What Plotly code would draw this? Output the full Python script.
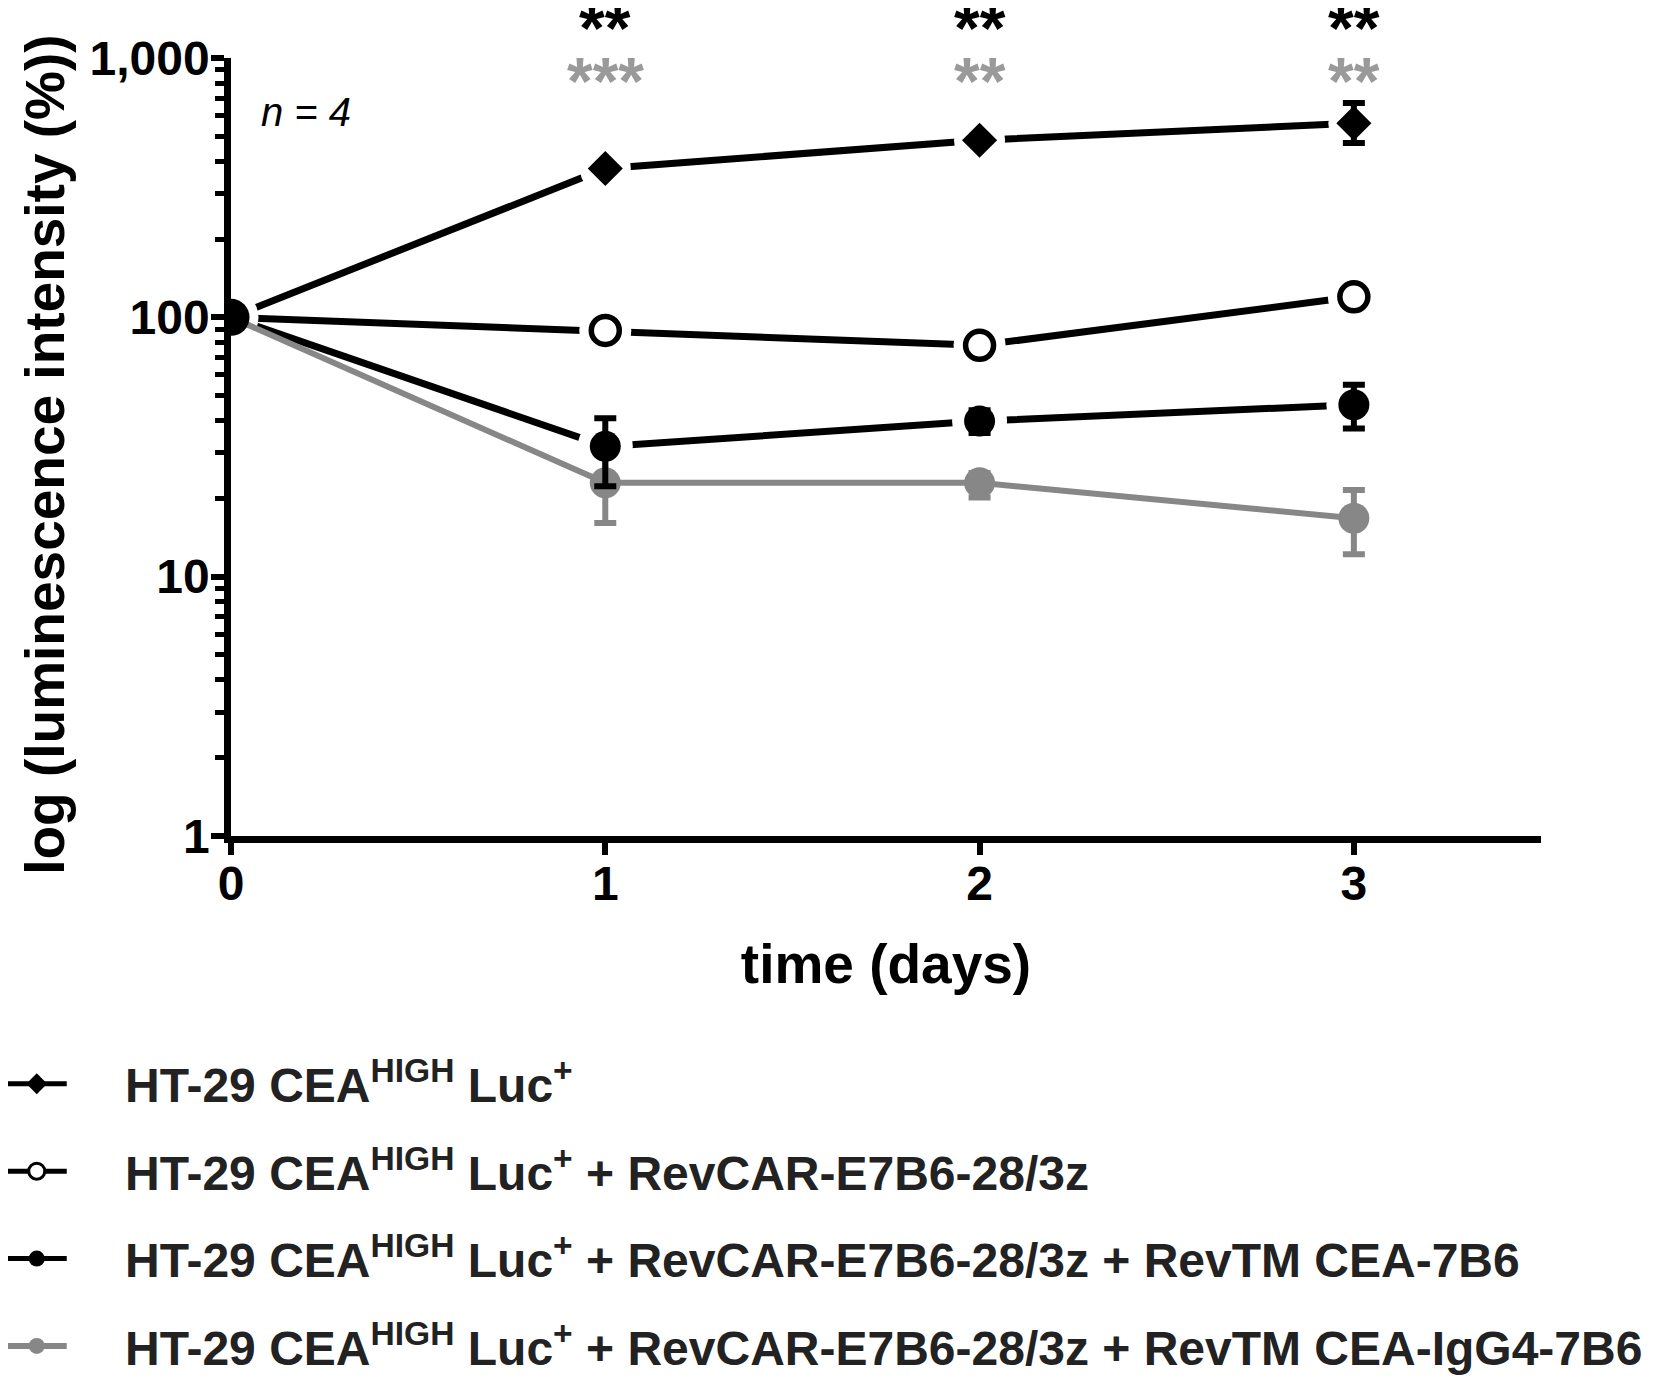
import plotly.graph_objects as go

# luminescence over time, log scale
days = [0, 1, 2, 3]

luc_only = [100, 375, 482, 560]
luc_only_up = [0, 0, 0, 110]
luc_only_dn = [0, 0, 0, 90]

revcar = [100, 89, 78, 120]
revcar_up = [0, 0, 0, 0]
revcar_dn = [0, 0, 0, 0]

revtm = [100, 31.8, 39.8, 46]
revtm_up = [0, 9, 4, 9]
revtm_dn = [0, 9.5, 4, 8.7]

revtm_igg4 = [100, 23, 23, 16.8]
revtm_igg4_up = [0, 9.4, 2.1, 4.8]
revtm_igg4_dn = [0, 6.9, 2.8, 4.6]

names = [
    "HT-29 CEA<sup>HIGH</sup> Luc<sup>+</sup>",
    "HT-29 CEA<sup>HIGH</sup> Luc<sup>+</sup> + RevCAR-E7B6-28/3z",
    "HT-29 CEA<sup>HIGH</sup> Luc<sup>+</sup> + RevCAR-E7B6-28/3z + RevTM CEA-7B6",
    "HT-29 CEA<sup>HIGH</sup> Luc<sup>+</sup> + RevCAR-E7B6-28/3z + RevTM CEA-IgG4-7B6",
]

stars_days = [1, 2, 3]
stars_black = ["**", "**", "**"]
stars_gray = ["***", "**", "**"]

FONT = "Liberation Sans, Arial, sans-serif"
GRAY = "#878787"
PAD = "&nbsp;" * 4

fig = go.Figure()

black_sets = [
    (luc_only, luc_only_up, luc_only_dn, "diamond", False, 27),
    (revcar, revcar_up, revcar_dn, "circle", True, 28),
    (revtm, revtm_up, revtm_dn, "circle", False, 31),
]

# black connecting lines on the base subplot
for vals, up, dn, sym, hollow, sz in black_sets:
    fig.add_trace(go.Scatter(x=days, y=vals, mode="lines",
                             line=dict(color="black", width=7),
                             showlegend=False, hoverinfo="skip"))

# white halos on the overlaid subplot -> small gap between line and marker
for vals, up, dn, sym, hollow, sz in black_sets:
    fig.add_trace(go.Scatter(
        x=days, y=vals, mode="markers", xaxis="x2", yaxis="y2",
        marker=dict(color="white", size=sz + 24, symbol="circle", line=dict(width=0)),
        error_y=dict(type="data", array=[0, 0, 0, 0], color="white", thickness=0.5, width=0),
        showlegend=False, hoverinfo="skip"))

# gray series (no gap)
fig.add_trace(go.Scatter(
    x=days, y=revtm_igg4, mode="lines+markers", name=PAD + names[3],
    xaxis="x2", yaxis="y2",
    line=dict(color=GRAY, width=6),
    marker=dict(color=GRAY, size=31, symbol="circle"),
    error_y=dict(type="data", symmetric=False, array=revtm_igg4_up,
                 arrayminus=revtm_igg4_dn, color=GRAY, thickness=6, width=11),
    legendrank=4, legendgroup="d",
))

# black markers with error bars
for i, (vals, up, dn, sym, hollow, sz) in enumerate(black_sets):
    fig.add_trace(go.Scatter(
        x=days, y=vals, mode="markers", name=names[i], xaxis="x2", yaxis="y2",
        marker=dict(color="white" if hollow else "black", size=sz, symbol=sym,
                    line=dict(color="black", width=5.5 if hollow else 0)),
        error_y=dict(type="data", symmetric=False, array=up, arrayminus=dn,
                     color="black", thickness=6, width=11),
        showlegend=False, hoverinfo="skip",
    ))
    # legend entry with its line
    fig.add_trace(go.Scatter(
        x=[None], y=[None], mode="lines+markers", name=PAD + names[i],
        xaxis="x2", yaxis="y2",
        line=dict(color="black", width=5),
        marker=dict(color="white" if hollow else "black", size=sz, symbol=sym,
                    line=dict(color="black", width=3 if hollow else 0)),
        legendrank=i + 1, legendgroup="abc"[i],
    ))

# shared starting point at day 0
fig.add_trace(go.Scatter(x=days[:1], y=revtm[:1], mode="markers", xaxis="x2", yaxis="y2",
                         marker=dict(color="black", size=37),
                         showlegend=False, hoverinfo="skip"))

for d, s in zip(stars_days, stars_black):
    fig.add_annotation(x=d, y=1.089, xref="x", yref="paper", yanchor="top",
                       text="<b>" + s + "</b>", showarrow=False,
                       font=dict(size=66, color="black", family=FONT))
for d, s in zip(stars_days, stars_gray):
    fig.add_annotation(x=d, y=1.021, xref="x", yref="paper", yanchor="top",
                       text="<b>" + s + "</b>", showarrow=False,
                       font=dict(size=66, color="#9a9a9a", family=FONT))

fig.add_annotation(x=0.20, y=0.962, xref="x", yref="paper", text="<i>n = 4</i>",
                   showarrow=False, font=dict(size=40, color="black", family=FONT))

# y axis title placed by hand so it sits close to the edge as in the figure
fig.add_annotation(x=-0.142, y=0.49, xref="paper", yref="paper", textangle=-90,
                   xanchor="center", yanchor="middle",
                   text="<b>log (luminescence intensity (%))</b>", showarrow=False,
                   font=dict(size=55, color="black", family=FONT))

fig.update_xaxes(
    range=[0, 3.5], tickvals=days, showline=True, linecolor="black", linewidth=6.5,
    ticks="outside", ticklen=12, tickwidth=6, tickcolor="black", showgrid=False,
    zeroline=False, tickfont=dict(size=48, family=FONT, weight="bold"),
    ticklabelstandoff=-12,
    title=dict(text="<b>time (days)</b>", font=dict(size=55, family=FONT), standoff=38),
)
fig.update_yaxes(
    type="log", range=[0, 3], tickmode="linear", tick0=0, dtick=1, tickformat=",d",
    showline=True, linecolor="black", linewidth=6.5, ticks="outside", ticklen=13,
    tickwidth=6, tickcolor="black", showgrid=False, zeroline=False,
    minor=dict(ticks="outside", ticklen=9, tickwidth=5, tickcolor="black", dtick="D1",
               showgrid=False),
    tickfont=dict(size=48, family=FONT, weight="bold"),
    ticklabelstandoff=-8,
)

fig.update_layout(
    width=1661, height=1383,
    margin=dict(l=223, r=128, t=50, b=555, autoexpand=False),
    plot_bgcolor="white", paper_bgcolor="white",
    font=dict(family=FONT, color="black", size=46),
    separators=".,",
    xaxis2=dict(overlaying="x", matches="x", visible=False),
    yaxis2=dict(overlaying="y", type="log", range=[0, 3], visible=False),
    legend=dict(x=-0.175, y=-0.27, xanchor="left", yanchor="top",
                font=dict(size=48, family=FONT, color="#222222", weight="bold"),
                tracegroupgap=22, itemwidth=60, bgcolor="rgba(0,0,0,0)"),
)

fig.write_html("out.html")
